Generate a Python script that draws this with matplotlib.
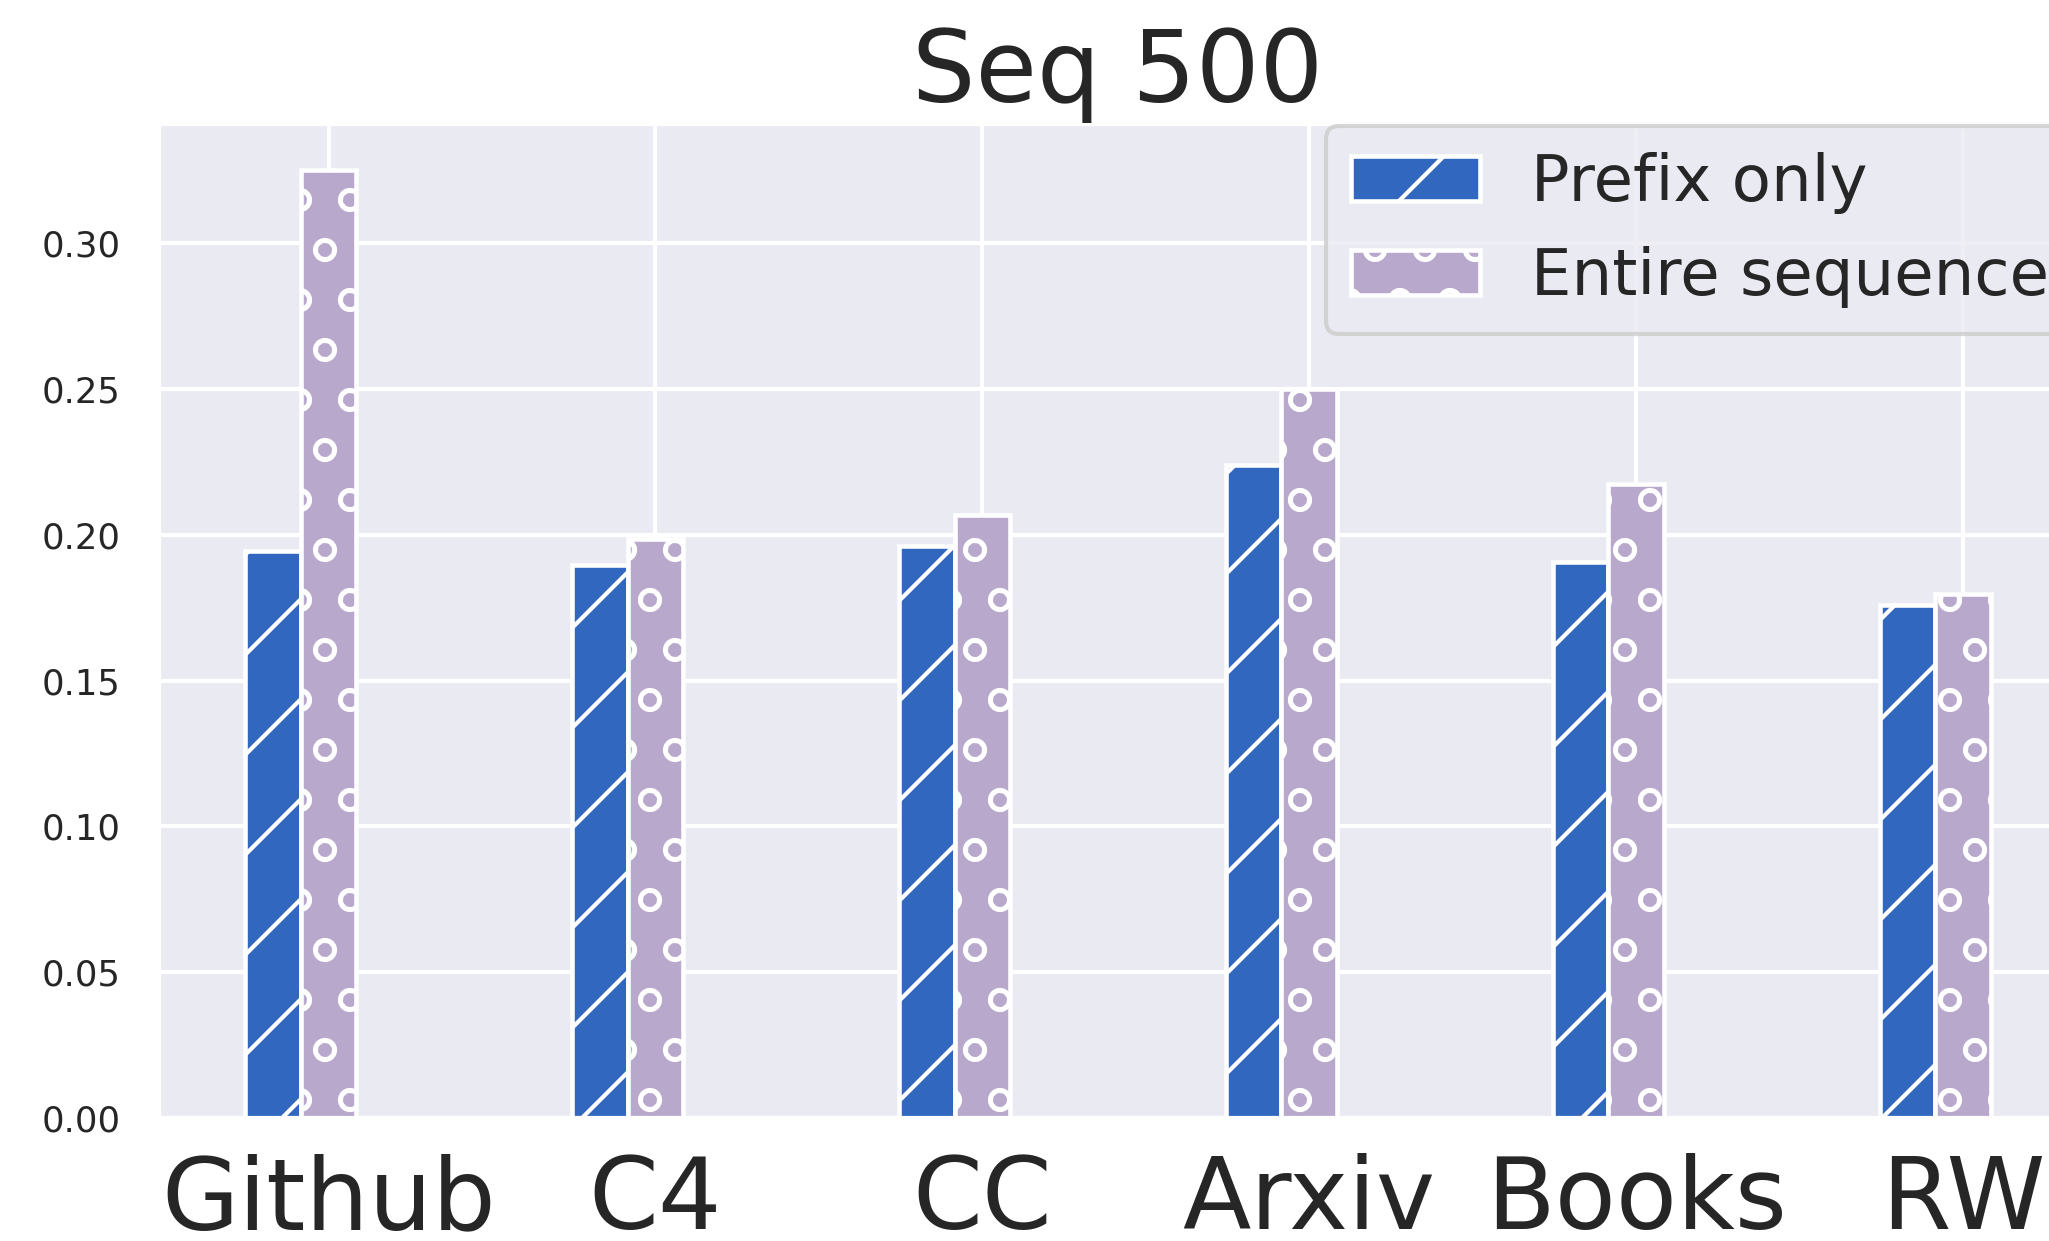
import numpy as np
import matplotlib
matplotlib.use("Agg")
import matplotlib.pyplot as plt
import seaborn as sns

# Data
datasets = ["Github", "C4", "CC", "Arxiv", "Books", "RW"]
prefix_only = [0.1946, 0.1897, 0.1963, 0.2241, 0.1906, 0.1758]
entire_seq = [0.3250, 0.1986, 0.2067, 0.2500, 0.2174, 0.1796]
yticks = [0.00, 0.05, 0.10, 0.15, 0.20, 0.25, 0.30]

sns.set_theme(style="darkgrid")
plt.rcParams["font.family"] = ["DejaVu Sans"]

fig = plt.figure(figsize=(2049 / 300, 1241 / 300), dpi=300)
# axes runs past the right edge of the figure, like the reference
ax = fig.add_axes([158 / 2049, 123 / 1241, 1920 / 2049, 995 / 1241])

x = np.arange(len(datasets))
w = 0.17
ax.bar(x - w, prefix_only, w, color="#3267BF", edgecolor="white",
       linewidth=1.1, hatch="/", label="Prefix only")
ax.bar(x, entire_seq, w, color="#B8A8CC", edgecolor="white",
       linewidth=1.1, hatch="o", label="Entire sequence")

ax.set_xticks(x)
ax.set_xticklabels(datasets, fontsize=24)
ax.set_yticks(yticks)
ax.set_yticklabels(["%.2f" % v for v in yticks], fontsize=8.5)
ax.tick_params(axis="both", length=0)
ax.tick_params(axis="y", pad=9)
ax.tick_params(axis="x", pad=8.5)
ax.set_title("Seq 500", fontsize=24, pad=5)

ax.legend(loc="upper right", fontsize=15.4, borderaxespad=0.05)

plt.savefig("out.png", dpi=300)
